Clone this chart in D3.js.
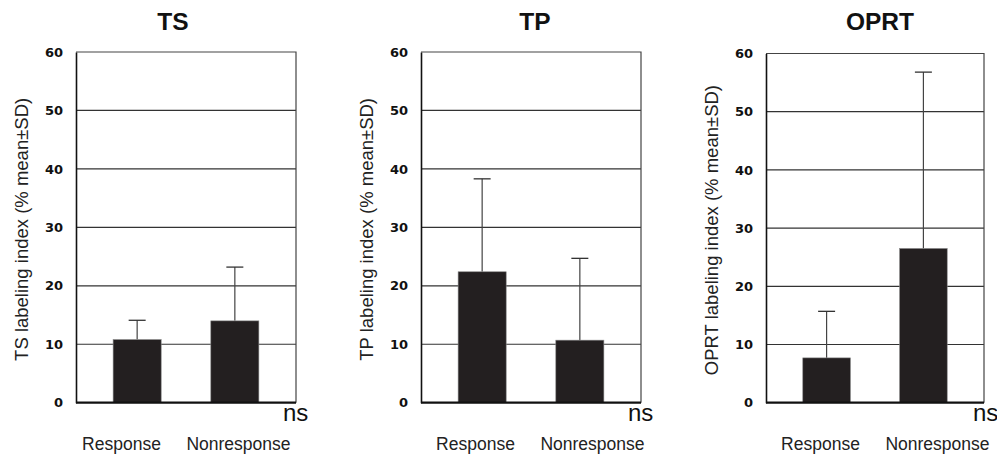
<!DOCTYPE html>
<html>
<head>
<meta charset="utf-8">
<script src="https://cdn.jsdelivr.net/npm/d3@7"></script>
<style>
  body { margin: 0; background: #fff; }
  text { font-family: "Liberation Sans", Arial, sans-serif; }
</style>
</head>
<body>
<div id="chart-area"></div>
<script>
// three bar panels: labeling index, mean with one-sided SD

var width = 997;
var height = 459;

var categories = ["Response", "Nonresponse"];
var yTicks = [0, 10, 20, 30, 40, 50, 60];

var tsMean = [10.8, 14.0];
var tsSD = [3.3, 9.2];
var tpMean = [22.4, 10.7];
var tpSD = [15.9, 14.0];
var oprtMean = [7.7, 26.5];
var oprtSD = [8.0, 30.3];

var panels = [
    { name: "TS", mean: tsMean, sd: tsSD, left: 76, right: 296, top: 52, titleDx: -13, labelDx: -6, nsDx: -13 },
    { name: "TP", mean: tpMean, sd: tpSD, left: 421, right: 641, top: 52, titleDx: 4, labelDx: 3, nsDx: -13 },
    { name: "OPRT", mean: oprtMean, sd: oprtSD, left: 766, right: 984, top: 53.5, titleDx: 5, labelDx: 4, nsDx: -11 }
];
var bottom = 402.7;

var svg = d3.select("#chart-area")
    .append("svg")
    .attr("width", width)
    .attr("height", height);

panels.forEach(function(p) {
    var g = svg.append("g");

    var x = d3.scaleBand()
        .domain(categories)
        .range([p.left, p.right])
        .paddingInner(0.508)
        .paddingOuter(0.38);

    var y = d3.scaleLinear()
        .domain([0, 60])
        .range([bottom, p.top]);

    var mid = (p.left + p.right) / 2;

    // grid lines
    g.selectAll("line.grid")
        .data(yTicks.slice(1, -1))
        .enter()
        .append("line")
        .attr("class", "grid")
        .attr("x1", p.left)
        .attr("x2", p.right)
        .attr("y1", function(d) { return y(d); })
        .attr("y2", function(d) { return y(d); })
        .attr("stroke", "#333")
        .attr("stroke-width", 1.2);

    // frame top + right
    g.append("path")
        .attr("d", "M" + p.left + "," + y(60) + "H" + p.right + "V" + bottom)
        .attr("fill", "none")
        .attr("stroke", "#444")
        .attr("stroke-width", 1.2);

    var rows = categories.map(function(c, i) {
        return { cat: c, mean: p.mean[i], sd: p.sd[i] };
    });

    // error bars (upper only)
    g.selectAll("line.err")
        .data(rows)
        .enter()
        .append("line")
        .attr("class", "err")
        .attr("x1", function(d) { return x(d.cat) + x.bandwidth() / 2; })
        .attr("x2", function(d) { return x(d.cat) + x.bandwidth() / 2; })
        .attr("y1", function(d) { return y(d.mean); })
        .attr("y2", function(d) { return y(d.mean + d.sd); })
        .attr("stroke", "#444")
        .attr("stroke-width", 1.2);

    g.selectAll("line.cap")
        .data(rows)
        .enter()
        .append("line")
        .attr("class", "cap")
        .attr("x1", function(d) { return x(d.cat) + x.bandwidth() / 2 - 8.5; })
        .attr("x2", function(d) { return x(d.cat) + x.bandwidth() / 2 + 8.5; })
        .attr("y1", function(d) { return y(d.mean + d.sd); })
        .attr("y2", function(d) { return y(d.mean + d.sd); })
        .attr("stroke", "#333")
        .attr("stroke-width", 1.3);

    g.selectAll("rect")
        .data(rows)
        .enter()
        .append("rect")
        .attr("x", function(d) { return x(d.cat); })
        .attr("y", function(d) { return y(d.mean); })
        .attr("width", x.bandwidth())
        .attr("height", function(d) { return bottom - y(d.mean); })
        .attr("fill", "#231f20")
        .attr("stroke", "#888")
        .attr("stroke-width", 0.6);

    // y axis
    var yAxis = g.append("g")
        .attr("transform", "translate(" + p.left + ",0)")
        .call(d3.axisLeft(y).tickValues(yTicks).tickSize(0).tickPadding(13));
    yAxis.select(".domain")
        .attr("stroke", "#111")
        .attr("stroke-width", 1.6);
    yAxis.selectAll("text")
        .attr("font-size", 13)
        .attr("font-weight", "bold")
        .attr("fill", "#111")
        .style("font-family", "'DejaVu Sans', sans-serif");

    // baseline
    g.append("line")
        .attr("x1", p.left)
        .attr("x2", p.right)
        .attr("y1", bottom)
        .attr("y2", bottom)
        .attr("stroke", "#111")
        .attr("stroke-width", 2.2);

    g.append("text")
        .attr("x", mid + p.titleDx)
        .attr("y", 29.5)
        .attr("text-anchor", "middle")
        .attr("font-size", 24.5)
        .attr("font-weight", "bold")
        .attr("fill", "#111")
        .text(p.name);

    g.append("text")
        .attr("transform", "translate(" + (p.left - 54.5) + "," + ((p.top + bottom) / 2 + 2) + ") rotate(-90)")
        .attr("dy", "0.35em")
        .attr("text-anchor", "middle")
        .attr("font-size", 18.5)
        .attr("fill", "#222")
        .text(p.name + " labeling index (% mean\u00b1SD)");

    g.selectAll("text.cat")
        .data(categories)
        .enter()
        .append("text")
        .attr("class", "cat")
        .attr("x", function(d, i) { return mid + p.labelDx + (i === 0 ? -58.5 : 58.5); })
        .attr("y", 450)
        .attr("text-anchor", "middle")
        .attr("font-size", 17.5)
        .attr("fill", "#222")
        .text(function(d) { return d; });

    g.append("text")
        .attr("x", p.right + p.nsDx)
        .attr("y", 421)
        .attr("font-size", 24)
        .attr("fill", "#111")
        .text("ns");
});
</script>
</body>
</html>
